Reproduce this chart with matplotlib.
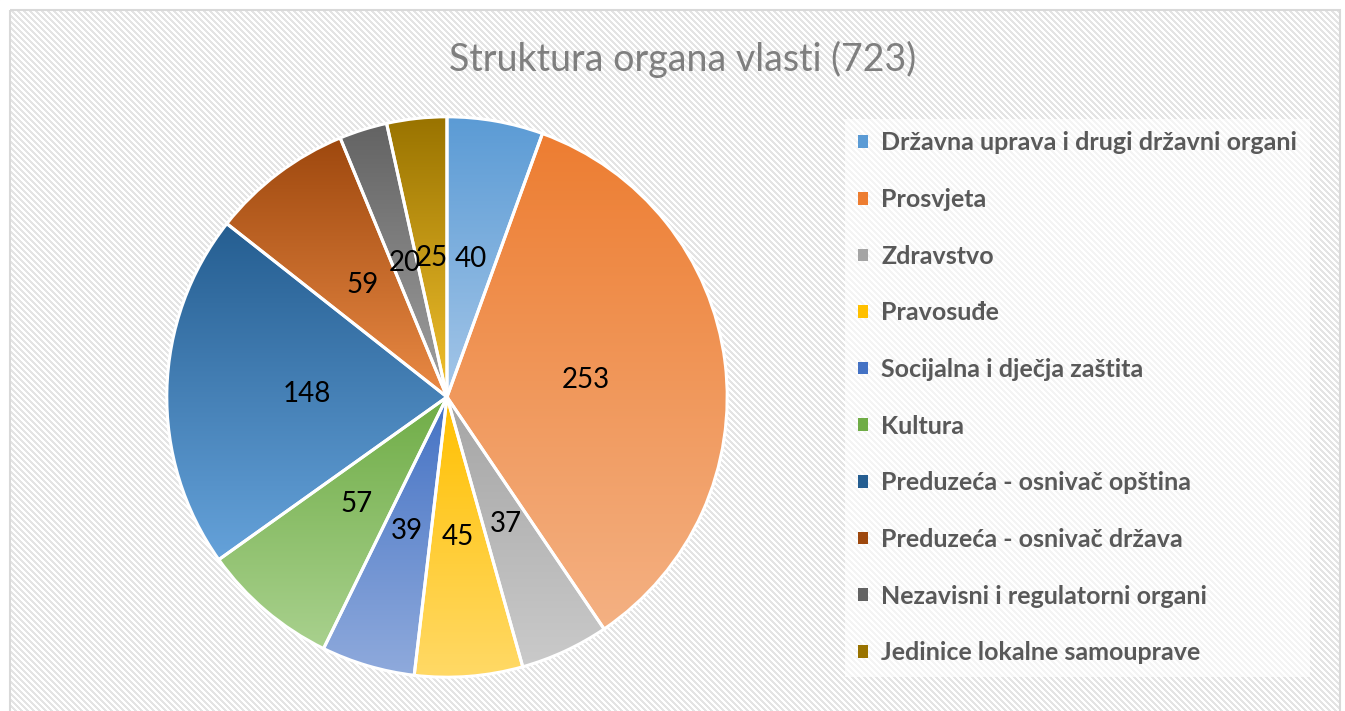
import numpy as np
import matplotlib
matplotlib.use("Agg")
import matplotlib.pyplot as plt
from matplotlib.patches import Patch, Rectangle
from matplotlib.colors import to_rgb

# ---- data ----
categories = [
    "Državna uprava i drugi državni organi",
    "Prosvjeta",
    "Zdravstvo",
    "Pravosuđe",
    "Socijalna i dječja zaštita",
    "Kultura",
    "Preduzeća - osnivač opština",
    "Preduzeća - osnivač država",
    "Nezavisni i regulatorni organi",
    "Jedinice lokalne samouprave",
]
values = [40, 253, 37, 45, 39, 57, 148, 59, 20, 25]
title = "Struktura organa vlasti (723)"

top_colors = ["#5B9BD5", "#ED7D31", "#A5A5A5", "#FFC000", "#4472C4",
              "#70AD47", "#255E91", "#9E480E", "#636363", "#997300"]
bottom_colors = ["#A4C6E8", "#F4B183", "#CACACA", "#FFD966", "#8FAADC",
                 "#A9D18E", "#65A2DA", "#EA8A45", "#A0A0A0", "#F2C12E"]

W, H = 1345, 711
fig = plt.figure(figsize=(W / 100, H / 100), dpi=100)

# ---- background: diagonal stripes and frame ----
bg = fig.add_axes([0, 0, 1, 1])
yy, xx = np.mgrid[0:H, 0:W]
stripe = ((xx - yy) % 6) < 3
img = np.ones((H, W, 3))
img[stripe] = np.array(to_rgb("#E4E4E4"))
bg.imshow(img, extent=[0, W, H, 0], interpolation="nearest", aspect="auto")
bg.set_xlim(0, W)
bg.set_ylim(H, 0)
bg.add_patch(Rectangle((0, 0), W, 9, color="white", zorder=2))
bg.add_patch(Rectangle((0, 0), 9, H, color="white", zorder=2))
bg.add_patch(Rectangle((W - 5, 0), 5, H, color="white", zorder=2))
bg.add_patch(Rectangle((9.5, 9.5), W - 15, H + 20, fill=False,
                       edgecolor="#D9D9D9", lw=1.5, zorder=3))
bg.axis("off")

# ---- pie ----
cx, cy, R = 447, 397, 283
ax = fig.add_axes([(cx - R) / W, (H - cy - R) / H, 2 * R / W, 2 * R / H])
total = sum(values)
wedges, texts, autotexts = ax.pie(
    values, startangle=90, counterclock=False, radius=1,
    autopct=lambda p: f"{p * total / 100:.0f}", pctdistance=0.5,
    wedgeprops=dict(edgecolor="white", linewidth=2.2),
    textprops=dict(family="Lato", fontsize=20, color="black"),
)
for w, c0, c1 in zip(wedges, top_colors, bottom_colors):
    ext = w.get_path().get_extents()
    a = np.array(to_rgb(c0))
    b = np.array(to_rgb(c1))
    t = np.linspace(0, 1, 256)[:, None]
    grad = (a[None, :] * (1 - t) + b[None, :] * t)[:, None, :]
    im = ax.imshow(grad, extent=[ext.x0, ext.x1, ext.y0, ext.y1],
                   origin="upper", aspect="auto", zorder=1,
                   interpolation="bilinear")
    im.set_clip_path(w)
    w.set_facecolor("none")
    w.set_zorder(2)
for t in autotexts:
    t.set_zorder(3)
ax.set_xlim(-1.01, 1.01)
ax.set_ylim(-1.01, 1.01)
ax.axis("off")

# ---- title ----
fig.text(683 / W, 1 - 59 / H, title, ha="center", va="center",
         family="Lato", fontsize=27, color="#7F7F7F")

# ---- legend ----
handles = [Patch(facecolor=c, edgecolor="none") for c in top_colors]
leg = fig.legend(handles, categories, loc="upper left",
                 bbox_to_anchor=(845 / W, 1 - 119 / H),
                 frameon=True, fancybox=False, framealpha=0.6,
                 facecolor="white", edgecolor="none",
                 prop=dict(family="Lato", weight="bold", size=18),
                 labelcolor="#595959", labelspacing=1.345,
                 handlelength=0.4, handleheight=0.4, handletextpad=0.55,
                 borderpad=0.5, borderaxespad=0)

fig.savefig("out.png", dpi=100)
